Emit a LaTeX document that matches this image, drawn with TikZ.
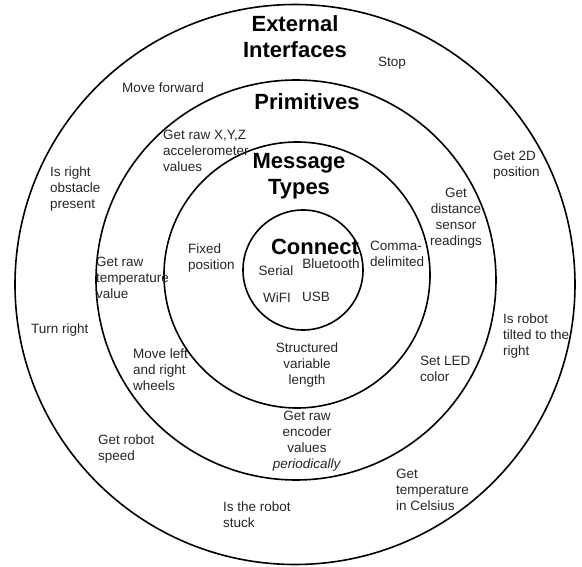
\documentclass[tikz,border=0pt]{standalone}
\usepackage{fontspec}
\setmainfont{Liberation Sans}
\begin{document}
\begin{tikzpicture}[x=1pt,y=-1pt,
  ring/.style={draw=black, line width=1.6pt, circle, inner sep=0pt, outer sep=0pt},
  lbl/.style={font=\fontsize{13.5}{16}\selectfont, inner sep=0pt, align=left, anchor=north west, text=black!85},
  clbl/.style={font=\fontsize{13.5}{16}\selectfont, inner sep=0pt, align=center, anchor=north, text=black!85},
  ttl/.style={font=\fontsize{22}{26}\selectfont\bfseries, inner sep=0pt, align=center, anchor=north}]
\useasboundingbox (0,0) rectangle (582,567);
% rings
\node[ring, minimum size=560pt] (outer) at (295,284.5) {};
\node[ring, minimum size=400pt] (prim) at (296,280) {};
\node[ring, minimum size=266pt] (msg) at (297,275) {};
\node[ring, minimum size=120pt] (conn) at (303,270) {};
% titles
\node[ttl] (tExt) at (295,15) {External\\Interfaces};
\node[ttl] (tPrim) at (307,93) {Primitives};
\node[ttl] (tMsg) at (299,153) {Message\\Types};
\node[ttl] (tConn) at (315,239) {Connect};
% external interfaces
\node[clbl] (stop) at (392,57) {Stop};
\node[clbl] (fwd) at (163,83) {Move forward};
\node[lbl] (pos2d) at (493,151) {Get 2D\\position};
\node[lbl] (obst) at (50,167) {Is right\\obstacle\\present};
\node[lbl] (turn) at (31,324) {Turn right};
\node[lbl] (tilt) at (503,314) {Is robot\\tilted to the\\right};
\node[lbl] (speed) at (98,435) {Get robot\\speed};
\node[lbl] (celsius) at (396,469) {Get\\temperature\\in Celsius};
\node[lbl] (stuck) at (223,502) {Is the robot\\stuck};
% primitives
\node[lbl] (accel) at (163,130) {Get raw X,Y,Z\\accelerometer\\values};
\node[clbl] (dist) at (456,188) {Get\\distance\\sensor\\readings};
\node[lbl] (temp) at (96,257) {Get raw\\temperature\\value};
\node[lbl] (wheels) at (133,349) {Move left\\and right\\wheels};
\node[lbl] (led) at (420,356) {Set LED\\color};
\node[clbl] (enc) at (307,411) {Get raw\\encoder\\values\\\textit{periodically}};
% message types
\node[lbl] (fixed) at (188,244) {Fixed\\position};
\node[lbl] (comma) at (370,241) {Comma-\\delimited};
\node[clbl] (struct) at (307,343) {Structured\\variable\\length};
% connect
\node[clbl] (serial) at (276,266) {Serial};
\node[clbl] (bt) at (331,259) {Bluetooth};
\node[clbl] (wifi) at (277,293) {WiFI};
\node[clbl] (usb) at (316,292) {USB};
\end{tikzpicture}
\end{document}
